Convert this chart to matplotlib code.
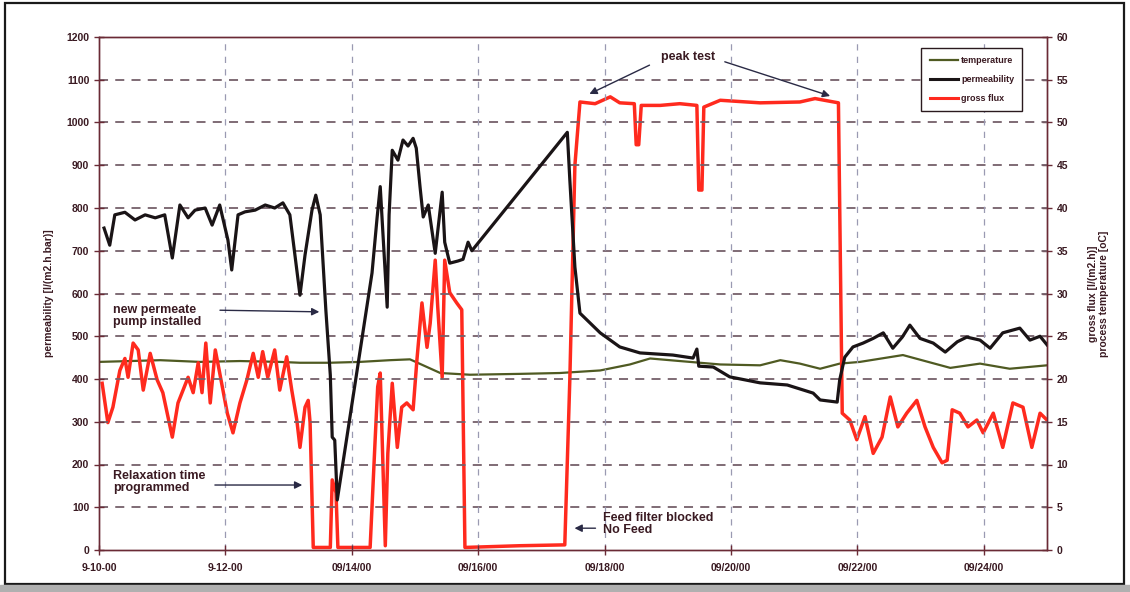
import matplotlib
matplotlib.use('Agg')
import matplotlib.pyplot as plt
from matplotlib.lines import Line2D
from matplotlib.patches import Rectangle

plt.rcParams['font.family']=['Liberation Sans','DejaVu Sans']
plt.rcParams['font.weight']='bold'

#Days counted from 9-10-00.
TICK_DAYS=[0,2,4,6,8,10,12,14]
TICK_LABELS=['9-10-00','9-12-00','09/14/00','09/16/00','09/18/00','09/20/00','09/22/00','09/24/00']

#Permeability [l/(m2.h.bar)].
perm_day=[0.08,0.17,0.25,0.41,0.57,0.73,0.89,1.04,1.16,1.28,1.41,1.52,1.68,1.79,1.91,2.04,2.10,2.20,2.31,2.47,
          2.63,2.78,2.91,3.02,3.10,3.18,3.26,3.37,3.43,3.50,3.59,3.66,3.69,3.73,3.77,4.32,4.40,4.45,4.49,4.56,
          4.59,4.64,4.73,4.81,4.89,4.97,5.02,5.08,5.13,5.21,5.32,5.43,5.47,5.55,5.68,5.76,5.84,5.90,7.41,7.45,
          7.53,7.61,7.93,8.24,8.56,9.08,9.40,9.46,9.49,9.72,9.98,10.46,10.89,11.30,11.41,11.68,11.72,11.80,11.93,12.09,
          12.25,12.41,12.56,12.71,12.83,12.99,13.20,13.39,13.58,13.73,13.94,14.10,14.30,14.57,14.73,14.89,15.00]
perm_val=[753,713,784,790,772,784,777,784,683,807,777,795,800,760,807,725,655,784,791,795,
          807,800,812,784,690,596,690,795,830,784,560,409,264,257,117,648,777,850,747,568,
          784,935,912,959,945,963,940,849,779,807,694,837,720,671,676,680,720,700,977,865,
          662,554,508,475,461,456,449,470,430,428,405,391,386,367,351,346,398,451,475,484,
          495,508,472,498,526,495,484,463,487,498,491,472,508,519,491,500,480]

#Gross flux [l/(m2.h)].
flux_day=[0.05,0.14,0.22,0.33,0.41,0.46,0.54,0.62,0.70,0.81,0.92,1.01,1.16,1.25,1.33,1.41,1.49,1.57,1.63,1.69,
          1.76,1.84,1.91,2.03,2.12,2.23,2.34,2.44,2.52,2.59,2.67,2.78,2.86,2.97,3.05,3.13,3.18,3.26,3.31,3.34,
          3.39,3.66,3.69,3.75,3.78,4.29,4.37,4.41,4.45,4.53,4.57,4.64,4.72,4.79,4.87,4.97,5.03,5.11,5.19,5.24,
          5.32,5.36,5.43,5.47,5.55,5.66,5.74,5.79,6.66,7.37,7.45,7.53,7.61,7.85,8.09,8.24,8.47,8.50,8.54,8.58,
          8.88,9.19,9.46,9.49,9.54,9.57,9.83,10.46,11.09,11.33,11.70,11.76,11.88,11.99,12.12,12.25,12.39,12.52,12.64,12.78,
          12.94,13.07,13.20,13.34,13.42,13.50,13.62,13.75,13.89,13.99,14.15,14.30,14.46,14.62,14.76,14.89,15.00]
flux_val=[19.5,14.9,16.7,21.0,22.4,20.2,24.2,23.4,18.7,23.0,19.9,18.4,13.2,17.2,18.7,20.2,18.4,21.9,18.4,24.2,
          17.2,23.4,20.7,16.0,13.7,17.2,19.9,23.0,20.2,23.2,20.2,23.4,18.7,22.6,18.7,15.2,12.0,16.7,17.5,14.9,
          0.3,0.3,8.2,6.7,0.3,0.3,13.0,19.1,20.7,0.5,11.3,19.5,12.0,16.7,17.2,16.4,22.2,28.9,23.7,26.5,
          33.9,28.4,20.2,33.9,30.1,28.9,28.1,0.3,0.5,0.6,20.0,45.0,52.4,52.2,53.0,52.3,52.2,47.4,47.4,52.0,
          52.0,52.2,52.0,42.1,42.1,51.8,52.6,52.3,52.4,52.8,52.3,16.0,15.2,12.9,15.6,11.3,13.2,17.9,14.4,16.0,
          17.5,14.4,12.0,10.2,10.5,16.4,16.0,14.4,15.2,13.7,16.0,12.0,17.2,16.7,12.0,16.0,15.2]

#Process temperature [oC].
temp_day=[0.0,0.49,0.97,1.6,2.23,2.86,3.18,3.65,4.13,4.6,4.92,5.16,5.4,5.87,6.66,7.29,7.93,8.4,8.72,9.19,
          9.83,10.46,10.78,11.09,11.41,11.72,12.04,12.72,13.47,13.94,14.41,15.0]
temp_val=[22.0,22.1,22.2,22.0,22.1,22.0,21.9,21.9,22.0,22.2,22.3,21.5,20.7,20.5,20.6,20.7,21.0,21.7,22.4,22.1,
          21.7,21.6,22.2,21.8,21.2,21.8,22.0,22.8,21.3,21.8,21.2,21.6]

TXT='#3a1a22'
SPINE='#6a2a35'
ARROW='#2a2a45'
PERM_C='#1a1416'
FLUX_C='#ff2a1e'
TEMP_C='#4f5a22'

fig=plt.figure(figsize=(11.3,5.92),dpi=100)
ax=fig.add_axes([99/1130,1-550/592,(1047-99)/1130,(550-37)/592])
ax2=ax.twinx()

#Grid: dashed horizontals, light dashed verticals.
for v in range(100,1200,100):
    ax.axhline(v,color='#75606a',lw=1.3,ls=(0,(5,4)),zorder=0)
for d in TICK_DAYS[1:]:
    ax.axvline(d,color='#9a9ab2',lw=0.9,ls=(0,(5,5)),zorder=0)

ax2.plot(temp_day,temp_val,color=TEMP_C,lw=1.6,zorder=2)
ax2.plot(flux_day,flux_val,color=FLUX_C,lw=2.5,zorder=3)
ax.plot(perm_day,perm_val,color=PERM_C,lw=2.3,zorder=4)
ax.set_zorder(ax2.get_zorder()+1)
ax.patch.set_visible(False)

ax.set_xlim(0,15.0)
ax.set_ylim(0,1200)
ax2.set_ylim(0,60)
ax.set_yticks(range(0,1201,100))
ax2.set_yticks(range(0,61,5))
ax.set_xticks(TICK_DAYS)
ax.set_xticklabels(TICK_LABELS)

for a in (ax,ax2):
    for s in a.spines.values():
        s.set_color(SPINE)
        s.set_linewidth(1.0)
    a.tick_params(direction='inout',length=7,width=1,color=SPINE,labelsize=7.5,labelcolor=TXT)
ax.tick_params(axis='x',pad=6)
ax.set_ylabel('permeability [l/(m2.h.bar)]',fontsize=7.5,color=TXT,fontweight='bold',labelpad=9)
ax2.set_ylabel('gross flux [l/(m2.h)]\nprocess temperature [oC]',fontsize=7.5,color=TXT,fontweight='bold',labelpad=14)

#Annotations.
akw=dict(arrowstyle='-|>',color=ARROW,lw=1.0,mutation_scale=11)
ax.text(0.22,547,'new permeate\npump installed',fontsize=9,color=TXT,fontweight='bold',va='center',ha='left',linespacing=1.05)
ax.annotate('',xy=(3.53,557),xytext=(1.87,561),arrowprops=akw)
ax.text(0.22,159,'Relaxation time\nprogrammed',fontsize=9,color=TXT,fontweight='bold',va='center',ha='left',linespacing=1.05)
ax.annotate('',xy=(3.26,152),xytext=(1.79,152),arrowprops=akw)
ax.text(7.97,61,'Feed filter blocked\nNo Feed',fontsize=9,color=TXT,fontweight='bold',va='center',ha='left',linespacing=1.0)
ax.annotate('',xy=(7.48,51),xytext=(7.90,51),arrowprops=akw)
ax.text(9.32,1153,'peak test',fontsize=9,color=TXT,fontweight='bold',va='center',ha='center')
ax.annotate('',xy=(7.72,1064),xytext=(8.75,1137),arrowprops=akw)
ax.annotate('',xy=(11.61,1060),xytext=(9.86,1144),arrowprops=akw)

handles=[Line2D([],[],color=TEMP_C,lw=1.6),Line2D([],[],color=PERM_C,lw=2.2),Line2D([],[],color=FLUX_C,lw=2.2)]
leg=ax.legend(handles,['temperature','permeability','gross flux'],loc='upper right',bbox_to_anchor=(0.974,0.979),
              borderaxespad=0,fancybox=False,framealpha=1,edgecolor='#2a1a1e',fontsize=6.5,
              labelspacing=1.1,handlelength=3.2,handletextpad=0.3,borderpad=0.9)
leg.get_frame().set_linewidth(1.0)
for t in leg.get_texts():
    t.set_color(TXT)

#Outer frame and grey strip at the bottom.
fig.patches.append(Rectangle((5/1130,1-584/592),1119/1130,581/592,transform=fig.transFigure,
                             fill=False,edgecolor='#1a1a1a',lw=1.6))
fig.patches.append(Rectangle((0,0),1,7/592,transform=fig.transFigure,color='#b0b0b0'))

fig.savefig('out.png',dpi=100,facecolor='white')
